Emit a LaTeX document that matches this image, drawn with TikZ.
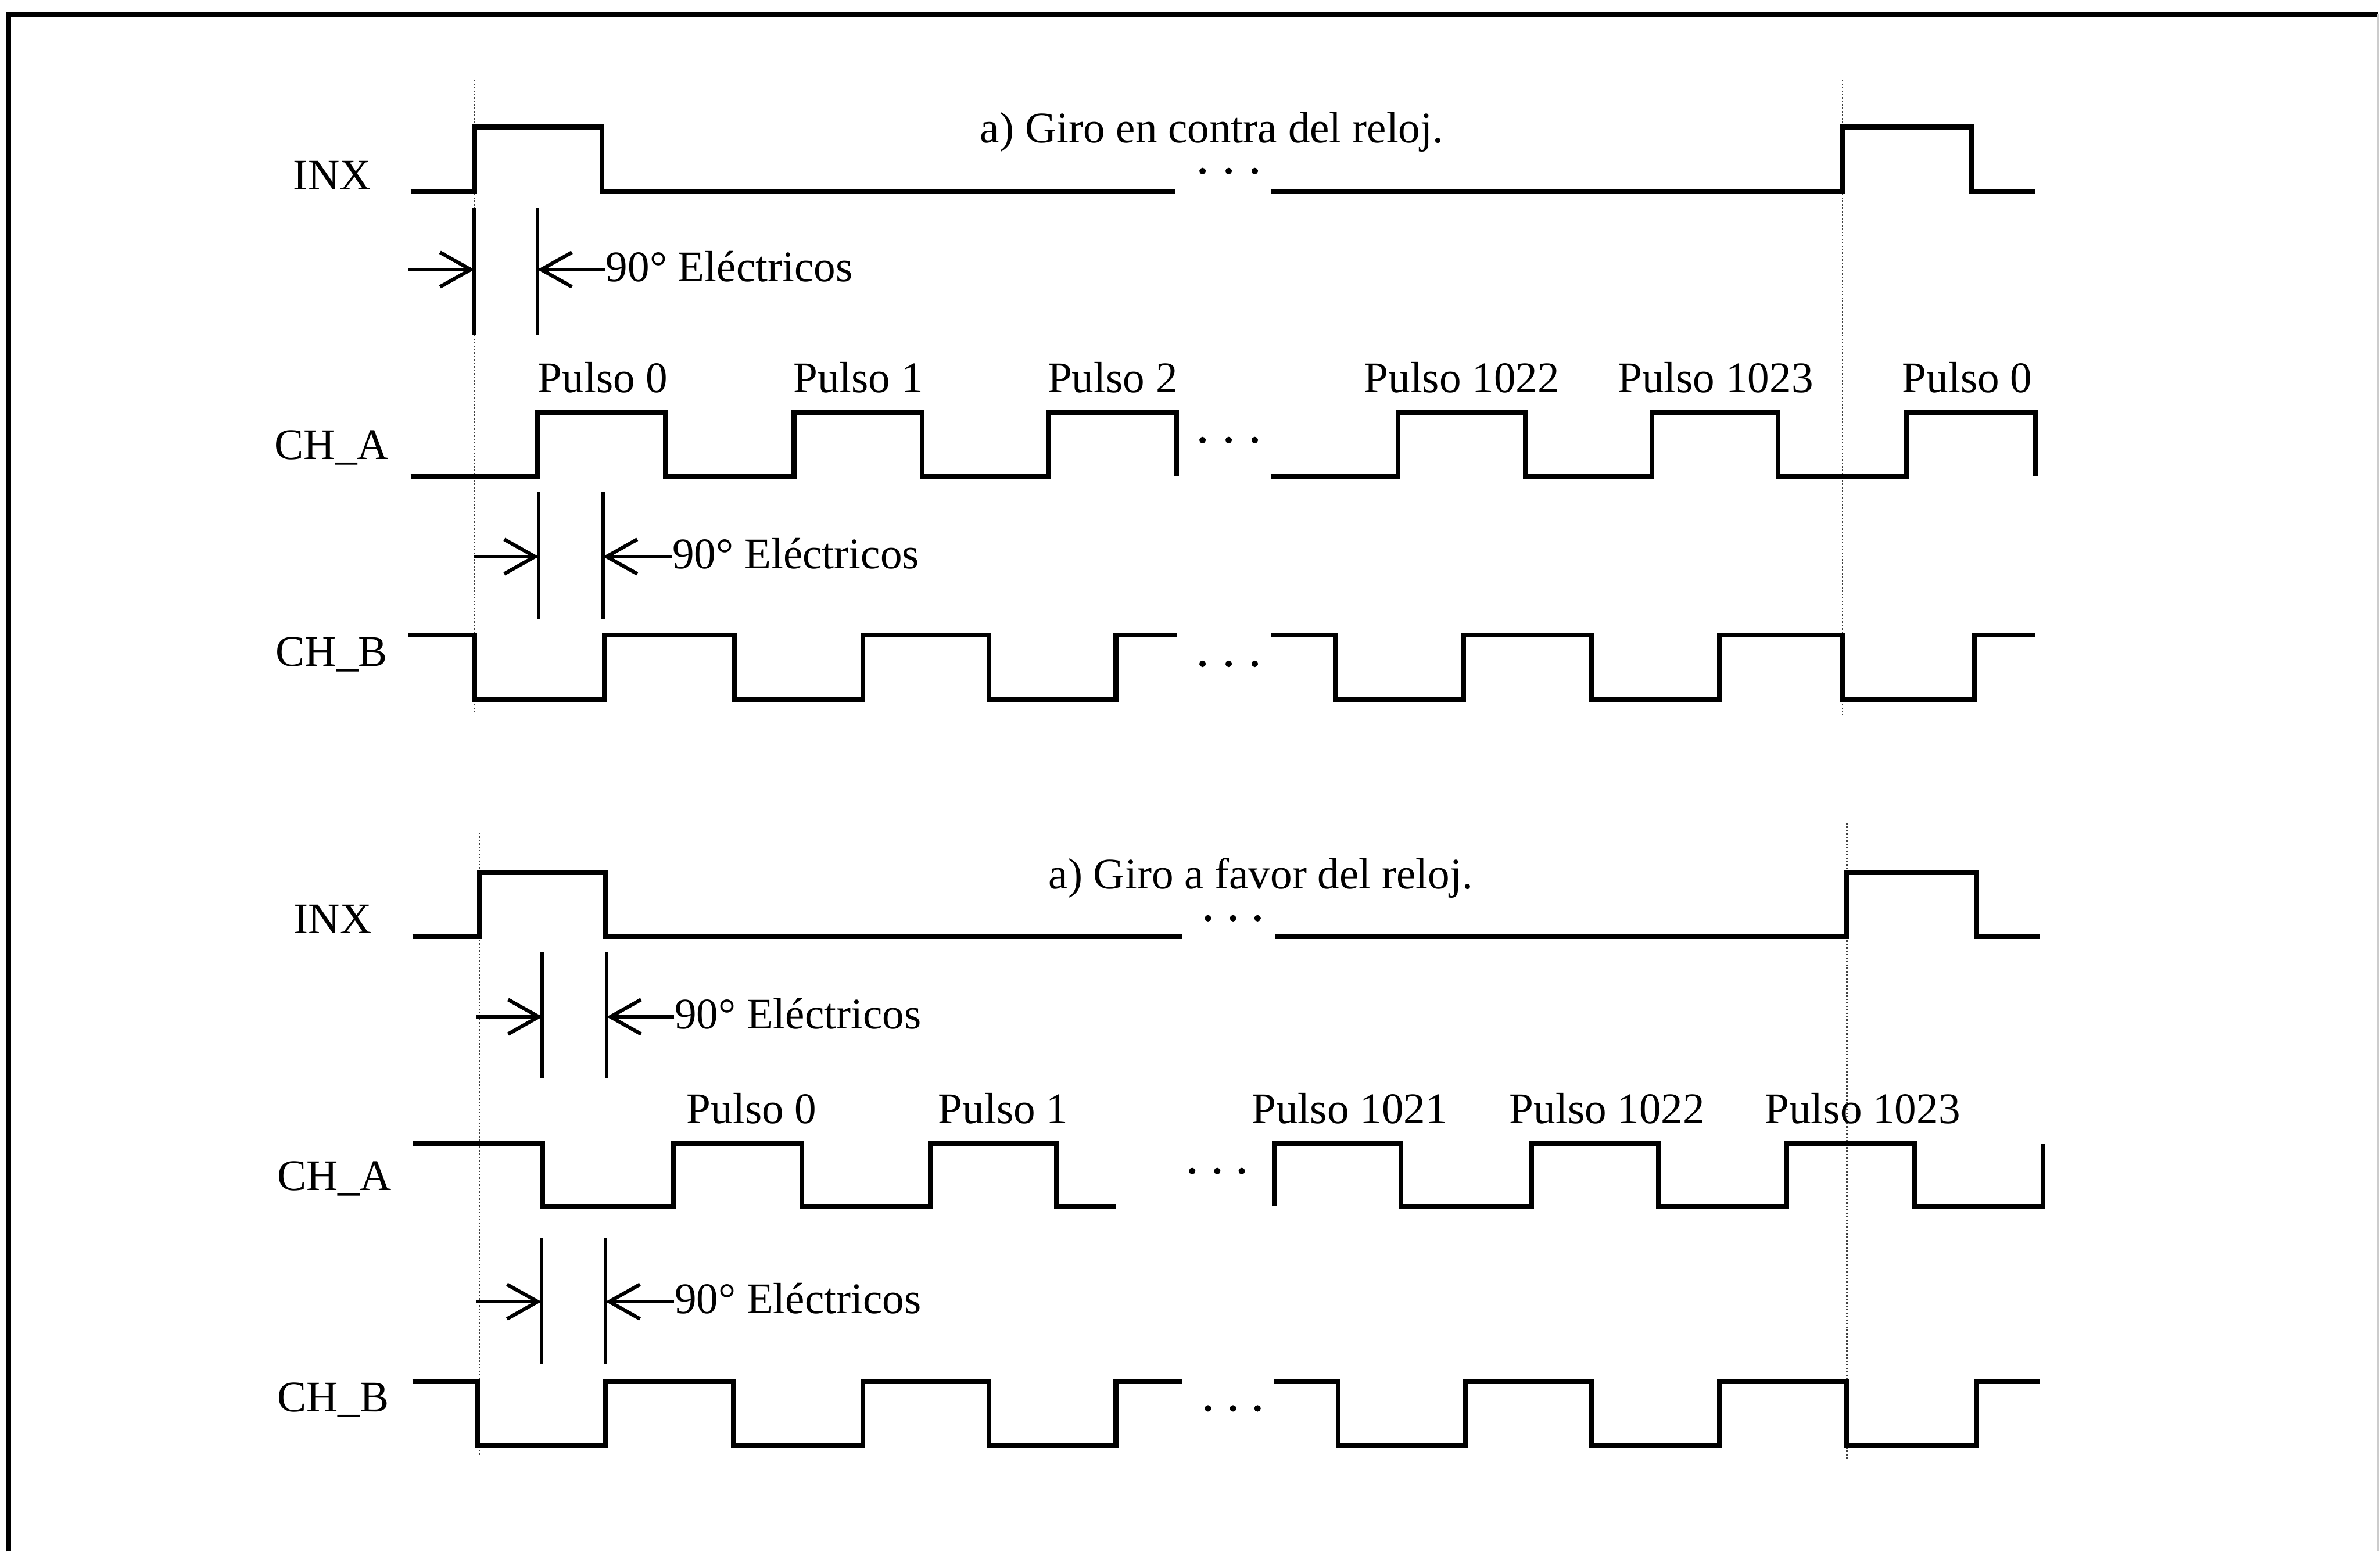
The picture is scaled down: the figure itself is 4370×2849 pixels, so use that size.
\documentclass[tikz,border=0pt]{standalone}
\usepackage{fontspec}
\setmainfont{Liberation Serif}
\usepackage{tikz}
\usetikzlibrary{arrows.meta}

\newcommand{\sigfont}{\fontsize{22.8}{27}\selectfont}

\tikzset{
    wave/.style={line width=2.5pt, line join=miter},
    guide/.style={densely dotted, line width=0.8pt, black!75},
    bar/.style={line width=1.9pt},
    dimarrow/.style={line width=1.9pt, -{Straight Barb[length=16pt,width=18pt]}},
    measure/.style={anchor=west, text height=0.44cm, text depth=0pt},
    dots/.style={fill=black}
}

\begin{document}
\begin{tikzpicture}[x=0.01cm,y=-0.01cm,every node/.style={font=\sigfont,inner sep=0pt}]

    \useasboundingbox (0,0) rectangle (4370,2849);
    \draw[line width=2.6pt] (16,2849) -- (16,26) -- (4366,26);
    \draw[line width=0.8pt,black!20] (4366,26) -- (4366,2849);

    \draw[guide] (871,147) -- (871,1310);
    \draw[guide] (3383,147) -- (3383,1313);
    \draw[guide] (880,1529) -- (880,2675);
    \draw[guide] (3391,1511) -- (3391,2680);

    \node[anchor=base] (titA) at (2225,262) {a) Giro en contra del reloj.};
    \node[anchor=base] (inxA) at (610,348) {INX};
    \node[anchor=base] (chaA) at (609,843) {CH\_A};
    \node[anchor=base] (chbA) at (609,1223) {CH\_B};

    \draw[wave] (754,352) -- (871,352) -- (871,233) -- (1105,233) -- (1105,352) -- (2158,352);
    \draw[wave] (2333,352) -- (3383,352) -- (3383,233) -- (3620,233) -- (3620,352) -- (3737,352);
    \fill[dots] (2208,314) circle[radius=6] (2256,314) circle[radius=6] (2304,314) circle[radius=6];

    \draw[bar] (871,382) coordinate (a1l) -- (871,614);
    \draw[bar] (987,382) coordinate (a1r) -- (987,614);
    \coordinate (a1s) at (750,495);
    \node[measure] (a1t) at (1112,495) {90° Eléctricos};
    \draw[dimarrow] (a1s) -- (a1s -| a1l);
    \draw[dimarrow] (a1t.west) -- (a1t.west -| a1r);

    \node[anchor=base] (pA0) at (1107,721) {Pulso 0};
    \node[anchor=base] (pA1) at (1576,721) {Pulso 1};
    \node[anchor=base] (pA2) at (2043,721) {Pulso 2};
    \node[anchor=base] (pA1022) at (2684,721) {Pulso 1022};
    \node[anchor=base] (pA1023) at (3150,721) {Pulso 1023};
    \node[anchor=base] (pA0b) at (3612,721) {Pulso 0};

    \draw[wave] (754,875) -- (987,875) -- (987,758) -- (1222,758) -- (1222,875) -- (1458,875) -- (1458,758) -- (1693,758) -- (1693,875) -- (1926,875) -- (1926,758) -- (2160,758) -- (2160,875);
    \draw[wave] (2333,875) -- (2567,875) -- (2567,758) -- (2801,758) -- (2801,875) -- (3033,875) -- (3033,758) -- (3265,758) -- (3265,875) -- (3500,875) -- (3500,758) -- (3737,758) -- (3737,875);
    \fill[dots] (2208,808) circle[radius=6] (2256,808) circle[radius=6] (2304,808) circle[radius=6];

    \draw[bar] (989,903) coordinate (a2l) -- (989,1136);
    \draw[bar] (1107,903) coordinate (a2r) -- (1107,1136);
    \coordinate (a2s) at (871,1022);
    \node[measure] (a2t) at (1234,1022) {90° Eléctricos};
    \draw[dimarrow] (a2s) -- (a2s -| a2l);
    \draw[dimarrow] (a2t.west) -- (a2t.west -| a2r);

    \draw[wave] (750,1166) -- (871,1166) -- (871,1285) -- (1110,1285) -- (1110,1166) -- (1348,1166) -- (1348,1285) -- (1584,1285) -- (1584,1166) -- (1816,1166) -- (1816,1285) -- (2049,1285) -- (2049,1166) -- (2160,1166);
    \draw[wave] (2333,1166) -- (2452,1166) -- (2452,1285) -- (2687,1285) -- (2687,1166) -- (2922,1166) -- (2922,1285) -- (3157,1285) -- (3157,1166) -- (3383,1166) -- (3383,1285) -- (3625,1285) -- (3625,1166) -- (3737,1166);
    \fill[dots] (2208,1219) circle[radius=6] (2256,1219) circle[radius=6] (2304,1219) circle[radius=6];

    \node[anchor=base] (titB) at (2315,1632) {a) Giro a favor del reloj.};
    \node[anchor=base] (inxB) at (611,1714) {INX};
    \node[anchor=base] (chaB) at (614,2185) {CH\_A};
    \node[anchor=base] (chbB) at (612,2592) {CH\_B};

    \draw[wave] (757,1720) -- (880,1720) -- (880,1602) -- (1112,1602) -- (1112,1720) -- (2170,1720);
    \draw[wave] (2342,1720) -- (3391,1720) -- (3391,1602) -- (3629,1602) -- (3629,1720) -- (3746,1720);
    \fill[dots] (2218,1686) circle[radius=6] (2264,1686) circle[radius=6] (2309,1686) circle[radius=6];

    \draw[bar] (996,1749) coordinate (b1l) -- (996,1980);
    \draw[bar] (1114,1749) coordinate (b1r) -- (1114,1980);
    \coordinate (b1s) at (875,1867);
    \node[measure] (b1t) at (1238,1867) {90° Eléctricos};
    \draw[dimarrow] (b1s) -- (b1s -| b1l);
    \draw[dimarrow] (b1t.west) -- (b1t.west -| b1r);

    \node[anchor=base] (pB0) at (1380,2063) {Pulso 0};
    \node[anchor=base] (pB1) at (1842,2063) {Pulso 1};
    \node[anchor=base] (pB1021) at (2478,2063) {Pulso 1021};
    \node[anchor=base] (pB1022) at (2951,2063) {Pulso 1022};
    \node[anchor=base] (pB1023) at (3420,2063) {Pulso 1023};

    \draw[wave] (759,2100) -- (996,2100) -- (996,2215) -- (1236,2215) -- (1236,2100) -- (1472,2100) -- (1472,2215) -- (1708,2215) -- (1708,2100) -- (1940,2100) -- (1940,2215) -- (2050,2215);
    \draw[wave] (2340,2215) -- (2340,2100) -- (2572,2100) -- (2572,2215) -- (2812,2215) -- (2812,2100) -- (3045,2100) -- (3045,2215) -- (3280,2215) -- (3280,2100) -- (3516,2100) -- (3516,2215) -- (3751,2215) -- (3751,2100);
    \fill[dots] (2189,2150) circle[radius=6] (2235,2150) circle[radius=6] (2280,2150) circle[radius=6];

    \draw[bar] (994,2273) coordinate (b2l) -- (994,2504);
    \draw[bar] (1112,2273) coordinate (b2r) -- (1112,2504);
    \coordinate (b2s) at (875,2390);
    \node[measure] (b2t) at (1238,2390) {90° Eléctricos};
    \draw[dimarrow] (b2s) -- (b2s -| b2l);
    \draw[dimarrow] (b2t.west) -- (b2t.west -| b2r);

    \draw[wave] (757,2537) -- (877,2537) -- (877,2654) -- (1112,2654) -- (1112,2537) -- (1347,2537) -- (1347,2654) -- (1584,2654) -- (1584,2537) -- (1816,2537) -- (1816,2654) -- (2049,2654) -- (2049,2537) -- (2170,2537);
    \draw[wave] (2340,2537) -- (2457,2537) -- (2457,2654) -- (2691,2654) -- (2691,2537) -- (2922,2537) -- (2922,2654) -- (3157,2654) -- (3157,2537) -- (3391,2537) -- (3391,2654) -- (3629,2654) -- (3629,2537) -- (3746,2537);
    \fill[dots] (2218,2586) circle[radius=6] (2264,2586) circle[radius=6] (2309,2586) circle[radius=6];
\end{tikzpicture}
\end{document}
